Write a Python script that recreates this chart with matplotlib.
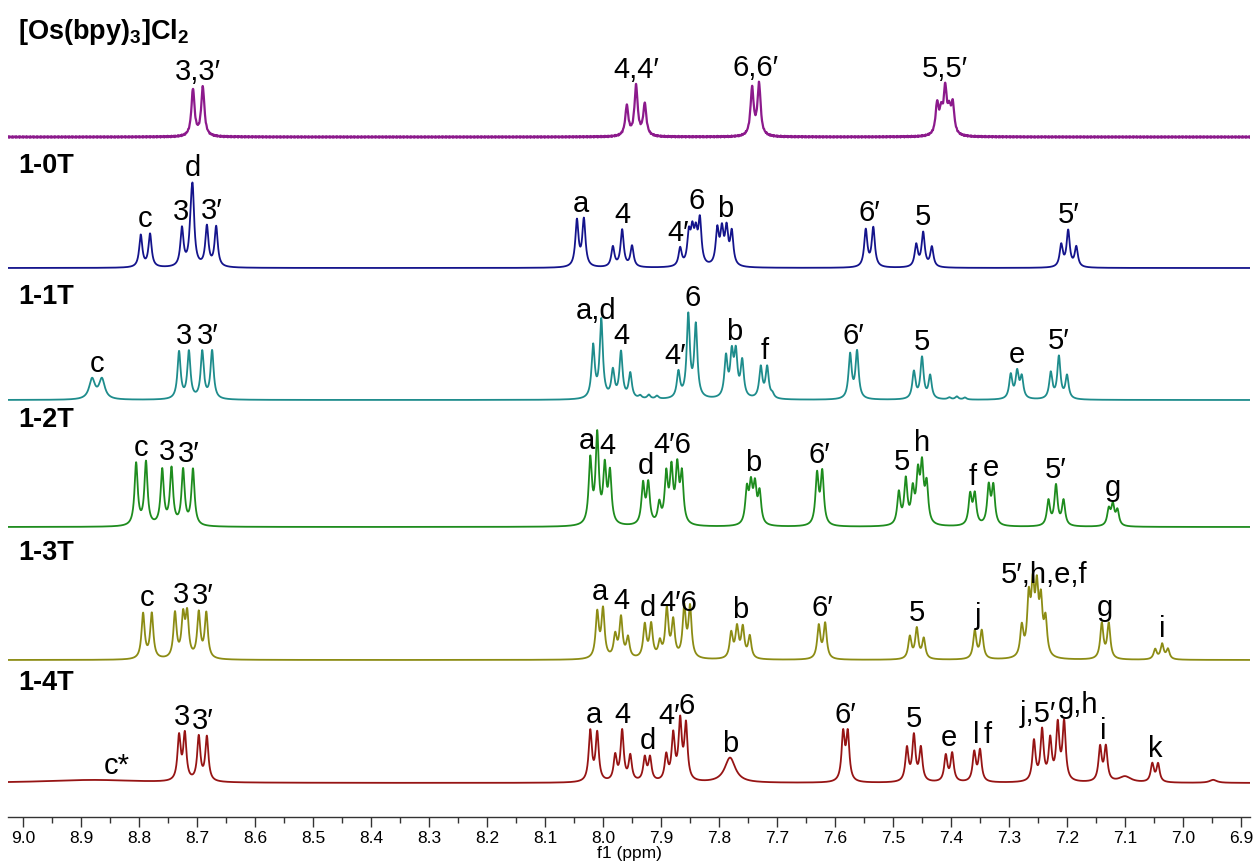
import numpy as np
import matplotlib.pyplot as plt

plt.rcParams['font.family'] = ['Liberation Sans', 'DejaVu Sans']
plt.rcParams['mathtext.fontset'] = 'custom'
plt.rcParams['mathtext.rm'] = 'Liberation Sans'
plt.rcParams['mathtext.bf'] = 'Liberation Sans:bold'

# ---------------- spectra: line positions (ppm) and intensities ----------------
# [Os(bpy)3]Cl2
os_shift = [8.707, 8.690, 7.959, 7.943, 7.928, 7.743, 7.731,
            7.424, 7.417, 7.410, 7.403, 7.397]
os_int = [47, 49, 30, 50, 32, 47, 52, 30, 20, 44, 20, 29]
os_labels = ["3,3′", "4,4′", "6,6′", "5,5′"]
os_label_ppm = [8.698, 7.943, 7.737, 7.410]

# 1-0T
t0_shift = [8.797, 8.781, 8.726, 8.7105, 8.7075, 8.683, 8.667,
            8.045, 8.033, 7.983, 7.967, 7.950,
            7.867, 7.852, 7.846, 7.840, 7.833,
            7.803, 7.795, 7.787, 7.778,
            7.547, 7.534, 7.460, 7.448, 7.433, 7.210, 7.198, 7.184]
t0_int = [32, 33, 38, 30, 66, 40, 40,
          46, 47, 20, 37, 21,
          18, 30, 30, 28, 44,
          35, 33, 35, 33,
          37, 39, 22, 34, 20, 22, 36, 20]
t0_labels = ["c", "3", "d", "3′", "a", "4", "4′", "6", "b", "6′", "5", "5′"]
t0_label_ppm = [8.789, 8.727, 8.7075, 8.675, 8.039, 7.967, 7.870, 7.838,
                7.790, 7.540, 7.448, 7.198]

# 1-1T
t1_shift = [8.731, 8.714, 8.691, 8.674,
            8.017, 8.003, 7.983, 7.969, 7.953, 7.936, 7.921, 7.907,
            7.870, 7.853, 7.840,
            7.788, 7.778, 7.771, 7.760, 7.728, 7.717, 7.708,
            7.574, 7.562, 7.464, 7.450, 7.436, 7.403, 7.390, 7.376,
            7.297, 7.286, 7.278, 7.228, 7.214, 7.200]
t1_int = [47, 47, 47, 48,
          52, 78, 27, 46, 25, 3, 4, 3,
          26, 82, 72,
          40, 41, 42, 36, 31, 31, 4,
          44, 47, 27, 41, 23, 2, 3, 2,
          24, 26, 21, 26, 42, 23]
t1_broad_shift = [8.881, 8.864]
t1_broad_int = [20, 20]
t1_broad_width = [0.012, 0.012]
t1_labels = ["c", "3", "3′", "a,d", "4", "4′", "6", "b", "f", "6′", "5", "e", "5′"]
t1_label_ppm = [8.872, 8.722, 8.682, 8.012, 7.969, 7.875, 7.846, 7.774, 7.722,
                7.568, 7.450, 7.287, 7.214]

# 1-2T
t2_shift = [8.805, 8.788, 8.760, 8.744, 8.724, 8.707,
            8.022, 8.010, 7.997, 7.988, 7.931, 7.922,
            7.903, 7.891, 7.882, 7.872, 7.864,
            7.752, 7.745, 7.738, 7.730, 7.631, 7.622,
            7.490, 7.478, 7.466, 7.457, 7.450, 7.442,
            7.367, 7.359, 7.335, 7.327, 7.232, 7.219, 7.206,
            7.128, 7.121, 7.113]
t2_int = [62, 63, 55, 56, 55, 56,
          64, 88, 55, 50, 40, 40,
          20, 48, 52, 54, 48,
          34, 36, 36, 31, 50, 52,
          32, 44, 32, 46, 54, 38,
          30, 30, 38, 38, 25, 40, 25,
          16, 20, 15]
t2_labels = ["c", "3", "3′", "a", "4", "d", "4′6", "b", "6′", "5", "h", "f", "e", "5′", "g"]
t2_label_ppm = [8.797, 8.752, 8.715, 8.028, 7.993, 7.926, 7.880, 7.741, 7.627,
                7.485, 7.450, 7.363, 7.331, 7.219, 7.121]

# 1-3T
t3_shift = [8.793, 8.778, 8.738, 8.724, 8.717, 8.697, 8.684,
            8.010, 8.000, 7.979, 7.969, 7.957, 7.928, 7.917,
            7.902, 7.890, 7.879, 7.860, 7.850,
            7.779, 7.769, 7.759, 7.747, 7.628, 7.617,
            7.471, 7.459, 7.447, 7.359, 7.347,
            7.278, 7.266, 7.259, 7.252, 7.245, 7.237,
            7.140, 7.128, 7.048, 7.036, 7.026]
t3_int = [45, 45, 45, 40, 42, 45, 45,
          45, 48, 22, 40, 20, 33, 33,
          15, 48, 36, 50, 50,
          25, 30, 30, 22, 33, 35,
          22, 30, 20, 28, 28,
          30, 55, 62, 60, 50, 35,
          35, 35, 10, 15, 10]
t3_labels = ["c", "3", "3′", "a", "4", "d", "4′6", "b", "6′", "5", "j",
             "5′,h,e,f", "g", "i"]
t3_label_ppm = [8.786, 8.728, 8.690, 8.005, 7.969, 7.923, 7.870, 7.763, 7.622,
                7.459, 7.353, 7.240, 7.134, 7.036]

# 1-4T
t4_shift = [8.731, 8.721, 8.697, 8.683,
            8.022, 8.010, 7.979, 7.967, 7.953, 7.928, 7.919,
            7.891, 7.879, 7.867, 7.857,
            7.586, 7.578, 7.476, 7.464, 7.452, 7.409, 7.398,
            7.360, 7.350, 7.257, 7.243, 7.229, 7.216, 7.205,
            7.143, 7.133, 7.053, 7.043]
t4_int = [44, 46, 44, 44,
          50, 48, 25, 50, 25, 23, 23,
          25, 45, 58, 55,
          47, 47, 33, 45, 33, 26, 28,
          29, 31, 40, 50, 40, 55, 58,
          34, 34, 18, 18]
t4_broad_shift = [8.88, 7.781, 7.100, 6.948]
t4_broad_int = [3, 25, 6, 3]
t4_broad_width = [0.20, 0.022, 0.025, 0.015]
t4_labels = ["c*", "3", "3′", "a", "4", "d", "4′", "6", "b", "6′", "5", "e",
             "l", "f", "j,5′", "g,h", "i", "k"]
t4_label_ppm = [8.838, 8.726, 8.690, 8.016, 7.967, 7.923, 7.886, 7.855, 7.781,
                7.582, 7.464, 7.403, 7.357, 7.336, 7.250, 7.181, 7.138, 7.048]

names = [r"[Os(bpy)$_\mathbf{3}$]Cl$_\mathbf{2}$", "1-0T", "1-1T", "1-2T", "1-3T", "1-4T"]
colors = ["#8C1A8C", "#14148C", "#1E8C8C", "#1E8C1E", "#8C8C14", "#961414"]

# ---------------- drawing ----------------
W, H = 1260, 867
fig = plt.figure(figsize=(W / 100, H / 100), dpi=100)
ax_bottom_px = 817
ax = fig.add_axes([8 / W, (H - ax_bottom_px) / H, 1242 / W, ax_bottom_px / H])
ax.set_xlim(9.0259, 6.8845)
ax.set_ylim(0, ax_bottom_px)

grid = np.linspace(9.03, 6.88, 8000)
LW = 0.0065


def lorentz(x, x0, amp, w):
    return amp / (1.0 + ((x - x0) / (w / 2.0)) ** 2)


def spectrum(shifts, ints, broad=None):
    y = np.zeros_like(grid)
    for s, a in zip(shifts, ints):
        y += lorentz(grid, s, a, LW)
    if broad is not None:
        for s, a, w in zip(*broad):
            y += lorentz(grid, s, a, w)
    return y


series = [
    (os_shift, os_int, None, os_labels, os_label_ppm),
    (t0_shift, t0_int, None, t0_labels, t0_label_ppm),
    (t1_shift, t1_int, (t1_broad_shift, t1_broad_int, t1_broad_width), t1_labels, t1_label_ppm),
    (t2_shift, t2_int, None, t2_labels, t2_label_ppm),
    (t3_shift, t3_int, None, t3_labels, t3_label_ppm),
    (t4_shift, t4_int, (t4_broad_shift, t4_broad_int, t4_broad_width), t4_labels, t4_label_ppm),
]
baseline_px = [137, 268, 400, 527, 660, 783]
title_px = [32, 166, 297, 420, 553, 683]

# faint baseline ripple on the osmium reference trace
ripple = 0.8 * np.sin(grid * 2300.0) * np.sin(grid * 517.0 + 1.3)

for i, (shifts, ints, broad, labs, lab_ppm) in enumerate(series):
    off = ax_bottom_px - baseline_px[i]
    y = spectrum(shifts, ints, broad)
    trace = y + (ripple if i == 0 else 0.0)
    ax.plot(grid, trace + off, color=colors[i], lw=1.6 if i == 0 else 1.3,
            solid_joinstyle='round')
    line_pos = np.asarray(list(shifts) + (list(broad[0]) if broad else []))
    for lab, p in zip(labs, lab_ppm):
        win = np.abs(grid - p) < 0.008
        top = y[win].max()
        # a label set just beside its multiplet still clears the nearest line
        nearest = line_pos[np.argmin(np.abs(line_pos - p))]
        if abs(nearest - p) < 0.03:
            top = max(top, y[np.argmin(np.abs(grid - nearest))])
        ax.text(p, off + top + 6, lab, ha='center', va='baseline',
                fontsize=21, color='black')
    fig.text(18 / W, 1 - title_px[i] / H, names[i], ha='left', va='center',
             fontsize=19.5, fontweight='bold')

for side in ['left', 'right', 'top']:
    ax.spines[side].set_visible(False)
ax.spines['bottom'].set_linewidth(1.0)
ax.spines['bottom'].set_color('#333333')
ax.set_yticks([])
ax.set_xticks(np.round(np.arange(6.9, 9.0001, 0.1), 1))
ax.set_xticks(np.round(np.arange(6.95, 9.0001, 0.1), 2), minor=True)
ax.xaxis.set_major_formatter(plt.FuncFormatter(lambda v, _: f"{v:.1f}"))
ax.tick_params(axis='x', which='major', direction='out', length=7, width=1,
               labelsize=12.5, pad=3, color='#333333')
ax.tick_params(axis='x', which='minor', direction='out', length=4, width=1,
               color='#333333')
ax.set_xlabel("f1 (ppm)", fontsize=12.5, labelpad=0)

fig.savefig("out.png", dpi=100)
